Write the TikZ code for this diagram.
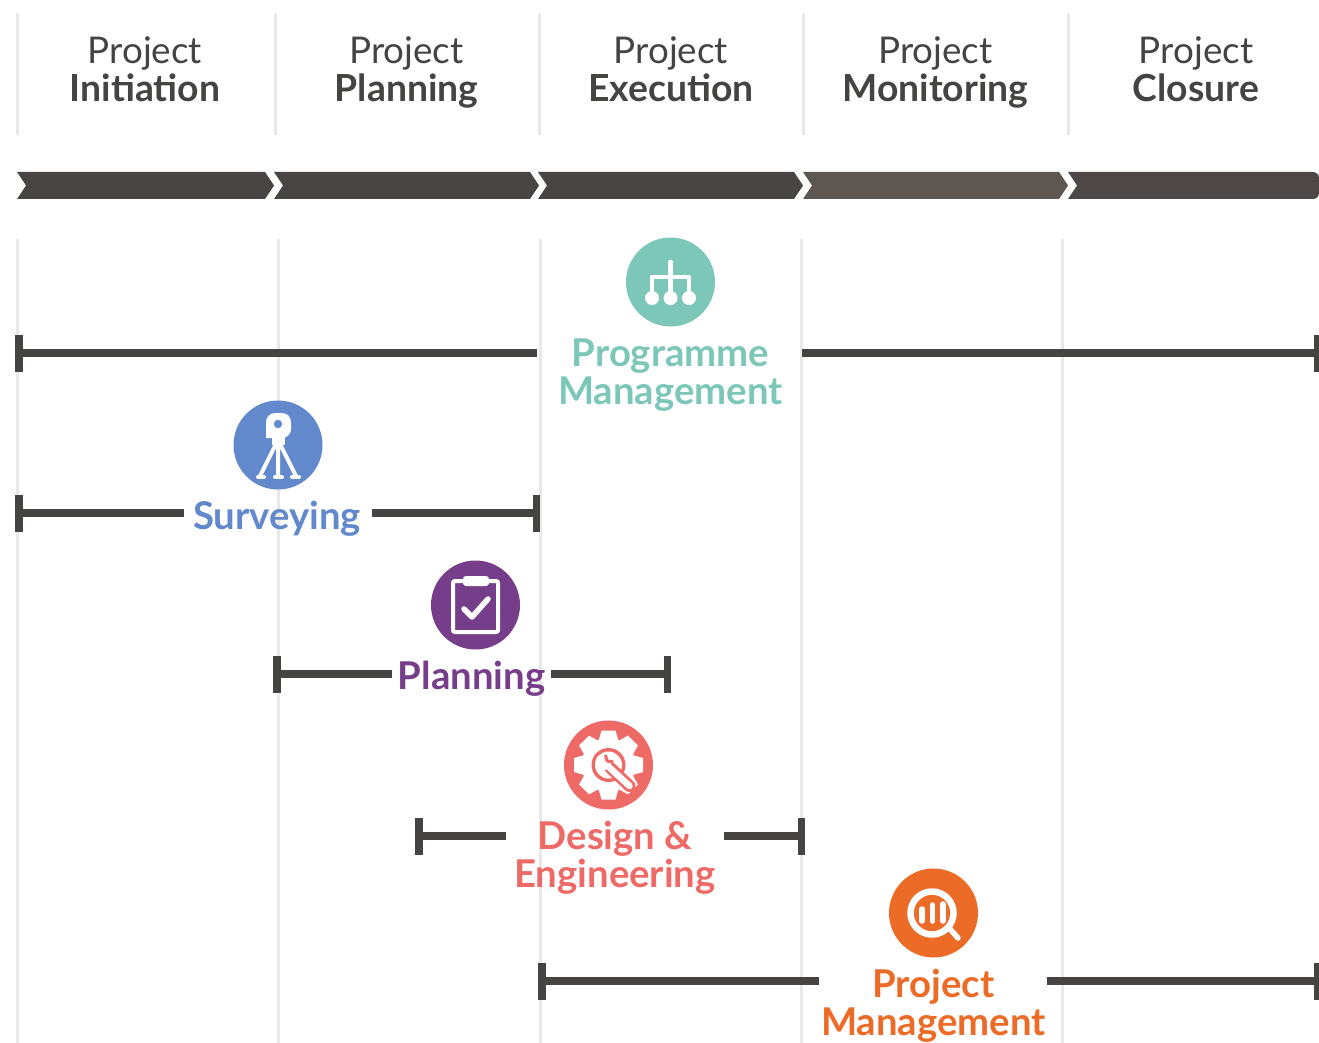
\documentclass[tikz,border=0pt]{standalone}
\usepackage{fontspec}
\setmainfont{Lato}
\usetikzlibrary{arrows.meta}
\definecolor{ink}{HTML}{464343}
\definecolor{chev}{HTML}{494544}
\definecolor{chevb}{HTML}{5D5651}
\definecolor{chevc}{HTML}{4D4847}
\definecolor{grid}{HTML}{E8E8E8}
\definecolor{teal}{HTML}{7CC7B7}
\definecolor{blueic}{HTML}{6189CB}
\definecolor{purp}{HTML}{763E8A}
\definecolor{redic}{HTML}{EE6A67}
\definecolor{orang}{HTML}{EC6B27}
\newcommand{\dsc}{\vphantom{g}}
\newcommand{\hdr}[1]{{\fontsize{36.8}{38.5}\selectfont Project}\\{\fontsize{37.3}{38.5}\selectfont\bfseries #1\dsc}}
\tikzset{
  x=1pt,y=-1pt,
  gridline/.style={grid,line width=3pt},
  head/.style={align=center,inner sep=0pt,text=ink,font=\fontsize{37}{38.5}\selectfont},
  lab/.style={align=center,inner sep=0pt,font=\fontsize{38.3}{38}\selectfont\bfseries},
  barL/.style={ink,line width=8pt,{Bar[width=37pt,line width=7.5pt]}-},
  barR/.style={ink,line width=8pt,-{Bar[width=37pt,line width=7.5pt]}},
  ic/.style={white,line width=4.5pt,line cap=round,line join=round},
}
\begin{document}
\begin{tikzpicture}
\useasboundingbox (0,0) rectangle (1319,1043);
% grid lines
\foreach \x in {17,275,539,803,1068} \draw[gridline] (\x,13) -- (\x,135);
\foreach \x in {17,278,540,801,1062} \draw[gridline] (\x,239) -- (\x,1043);
% chevrons
\fill[chev] (17,172) -- (265,172) -- (274,185.5) -- (265,199) -- (17,199) -- (26,185.5) -- cycle;
\fill[chev] (274,172) -- (530,172) -- (539,185.5) -- (530,199) -- (274,199) -- (283,185.5) -- cycle;
\fill[chev] (538,172) -- (794,172) -- (803,185.5) -- (794,199) -- (538,199) -- (547,185.5) -- cycle;
\fill[chevb] (803,172) -- (1059,172) -- (1068,185.5) -- (1059,199) -- (803,199) -- (812,185.5) -- cycle;
\fill[chevc] (1068,172) -- (1077,185.5) -- (1068,199) [rounded corners=6pt] -- (1319,199) -- (1319,172) [sharp corners] -- cycle;
% headers
\node[head] (h1) at (145,72.5) {\hdr{Initiation}};
\node[head] (h2) at (406.5,72.5) {\hdr{Planning}};
\node[head] (h3) at (671,72.5) {\hdr{Execution}};
\node[head] (h4) at (935.5,72.5) {\hdr{Monitoring}};
\node[head] (h5) at (1196,72.5) {\hdr{Closure}};
% labels
\node[lab,text=teal] (lprog) at (670.5,375) {Programme\\Management\dsc};
\node[lab,text=blueic] (lsurv) at (277,519) {Surveying};
\node[lab,text=purp] (lplan) at (471.5,679) {Planning};
\node[lab,text=redic] (ldes) at (615,858) {Design \&\\Engineering};
\node[lab,text=orang] (lpm) at (933.5,1006) {Project\\Management\dsc};
% bar end coordinates
\coordinate (a1) at (15,353); \coordinate (a2) at (537,353);
\coordinate (a3) at (802,353); \coordinate (a4) at (1321,353);
\coordinate (b1) at (15,513); \coordinate (b2) at (184,513);
\coordinate (b3) at (372,513); \coordinate (b4) at (540,513);
\coordinate (c1) at (273,674); \coordinate (c2) at (392,674);
\coordinate (c3) at (551,674); \coordinate (c4) at (671,674);
\coordinate (d1) at (415,836); \coordinate (d2) at (506,836);
\coordinate (d3) at (724,836); \coordinate (d4) at (805,836);
\coordinate (e1) at (538,981); \coordinate (e2) at (819,981);
\coordinate (e3) at (1047,981); \coordinate (e4) at (1321,981);
\draw[barL] (a1) -- (a2); \draw[barR] (a3) -- (a4);
\draw[barL] (b1) -- (b2); \draw[barR] (b3) -- (b4);
\draw[barL] (c1) -- (c2); \draw[barR] (c3) -- (c4);
\draw[barL] (d1) -- (d2); \draw[barR] (d3) -- (d4);
\draw[barL] (e1) -- (e2); \draw[barR] (e3) -- (e4);
% teal icon
\fill[teal] (670.5,282) circle[radius=44.5];
\draw[ic] (670.5,262) -- (670.5,296);
\draw[ic,line cap=butt] (652,296) -- (652,277) -- (689,277) -- (689,296);
\foreach \x in {652,670.5,689} \fill[white] (\x,298) circle[radius=7];
% blue icon
\fill[blueic] (278,445) circle[radius=44.5];
\fill[white,rounded corners=9pt] (266,438) -- (266,413) -- (291,413) -- (291,438) [sharp corners] -- cycle;
\fill[white] (272,436) rectangle (285,445);
\fill[blueic] (278,424) circle[radius=4.2];
\draw[ic,line width=4pt] (275,446) -- (260,476) (281,446) -- (296,476) (278,446) -- (278,476);
\draw[ic,line width=4pt] (258,477) -- (264,477) (275,477) -- (282,477) (292,477) -- (299,477);
% purple icon
\fill[purp] (475.5,605) circle[radius=44.5];
\draw[white,line width=4pt,rounded corners=2pt] (453,581) rectangle (498,632);
\fill[white,rounded corners=3pt] (463,576) rectangle (489,586);
\draw[ic,line width=5.5pt] (464,609) -- (472,617) -- (488,599);
% red icon
\fill[redic] (608.5,765) circle[radius=44.5];
\begin{scope}[shift={(608.5,765)}]
\fill[white] (0,0) circle[radius=27];
\foreach \a in {0,45,...,315}
  \fill[white,rotate=\a] (24,-10) -- (34.5,-7) -- (34.5,7) -- (24,10) -- cycle;
\fill[redic] (0,0) circle[radius=17];
\fill[white] (0,0) circle[radius=13.5];
\draw[redic,line width=12pt,line cap=round] (2,3) -- (21,21);
\fill[white] (-5,-3) circle[radius=8];
\draw[white,line width=6.5pt,line cap=round] (-3,-1) -- (21,21);
\draw[redic,line width=3pt,line join=round] (-3,-10) -- (-1.5,-4) -- (5,-3);
\end{scope}
% orange icon
\fill[orang] (933.5,913) circle[radius=44.5];
\draw[white,line width=6.5pt] (932,913) circle[radius=21.5];
\draw[ic,line width=5.5pt] (950,929) -- (958,938);
\draw[ic,line width=5.5pt] (922,909) -- (922,921) (932.5,905) -- (932.5,921) (943,904) -- (943,921);
\end{tikzpicture}
\end{document}
